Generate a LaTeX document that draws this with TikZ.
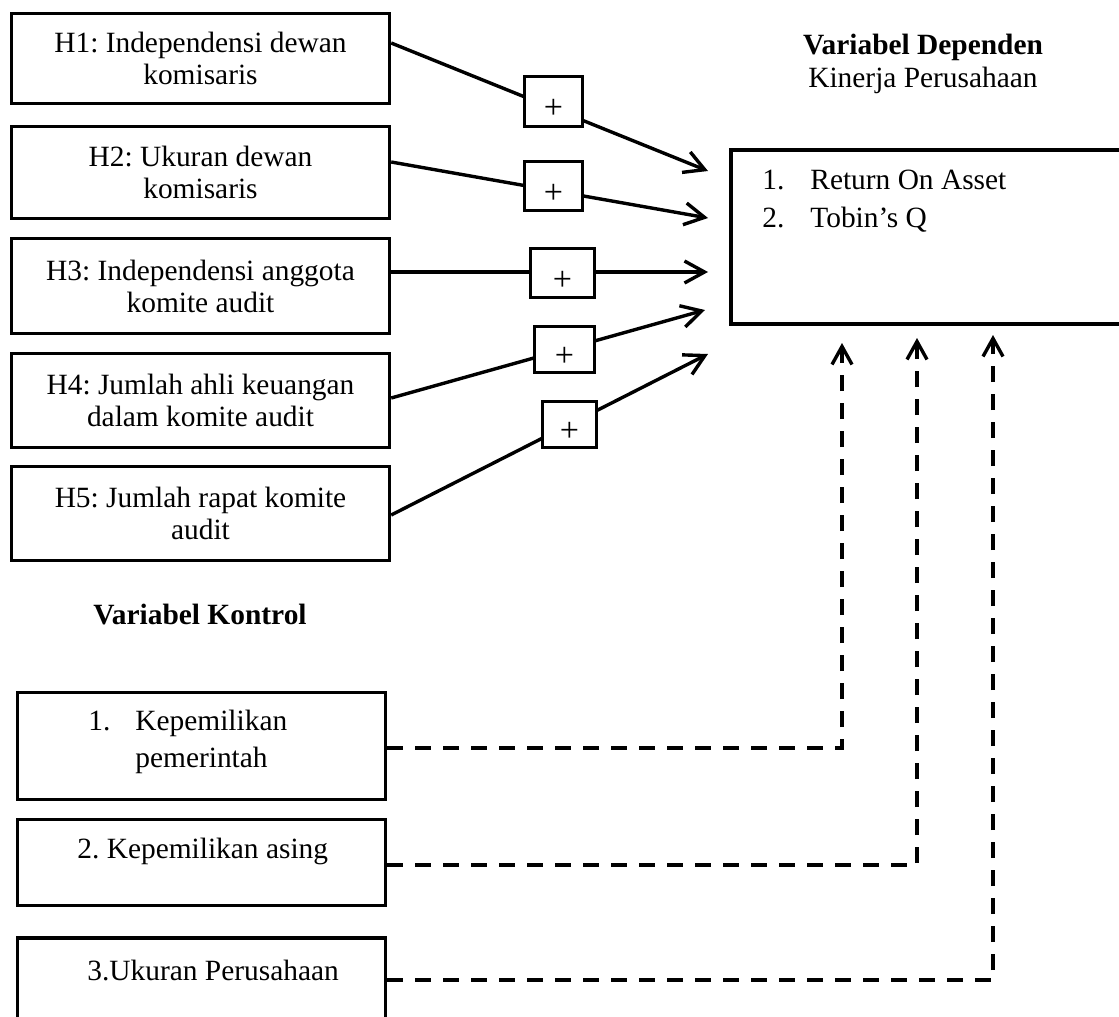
\documentclass[tikz,border=0pt]{standalone}
\usepackage{fontspec}
\setmainfont{Liberation Serif}
\usetikzlibrary{arrows.meta}
\frenchspacing
\begin{document}
\begin{tikzpicture}[x=0.5pt,y=-0.5pt,
  every node/.style={font=\fontsize{14.7pt}{16pt}\selectfont},
  hbox/.style={draw, line width=1.7pt, minimum width=189pt, align=center, inner sep=0pt},
  plusbox/.style={draw, fill=white, line width=1.7pt, inner sep=0pt, text height=17pt, text depth=0pt, font=\fontsize{17pt}{18pt}\selectfont},
  cbox/.style={draw, line width=1.7pt, minimum width=183.8pt, inner sep=0pt},
  link/.style={line width=1.7pt, -{Straight Barb[length=10pt,width=11pt]}},
  ctrl/.style={line width=1.7pt, dash pattern=on 8pt off 6pt, -{Straight Barb[length=9pt,width=10pt]}},
]
\useasboundingbox (0,0) rectangle (1119,1017);

% independent variable boxes
\node[hbox, minimum height=45pt]   (h1) at (200.5,58.5)  {\raisebox{-2pt}{\parbox{189pt}{\centering H1: Independensi dewan\\komisaris}}};
\node[hbox, minimum height=46pt]   (h2) at (200.5,172.5) {H2: Ukuran dewan\\komisaris};
\node[hbox, minimum height=47.5pt] (h3) at (200.5,286)   {H3: Independensi anggota\\komite audit};
\node[hbox, minimum height=47pt]   (h4) at (200.5,400.5) {H4: Jumlah ahli keuangan\\dalam komite audit};
\node[hbox, minimum height=47pt]   (h5) at (200.5,513.5) {H5: Jumlah rapat komite\\audit};

% dependent variable
\node[align=center, font=\fontsize{14.7pt}{16.5pt}\selectfont] (dephead) at (923,64) {\textbf{Variabel Dependen}\\Kinerja Perusahaan};
\node[draw, line width=1.7pt, minimum width=202pt, minimum height=87pt, inner sep=0pt] (dep) at (933,237) {};
\node[anchor=north west, inner sep=0pt, align=left, font=\fontsize{14.7pt}{19pt}\selectfont] (deplist) at (762,170)
  {\makebox[24pt][l]{1.}Return On Asset\\\makebox[24pt][l]{2.}Tobin’s Q};

% arrow tips
\coordinate (t1) at (708,171);
\coordinate (t2) at (708,218);
\coordinate (t3) at (708,272);
\coordinate (t4) at (705,310);
\coordinate (t5) at (708,354);

\draw[link] (h1.east |- 0,43)  -- (t1);
\draw[link] (h2.east |- 0,162) -- (t2);
\draw[link] (h3.east |- 0,272) -- (t3);
\draw[link] (h4.east |- 0,398) -- (t4);
\draw[link] (h5.east |- 0,515) -- (t5);

% plus boxes
\node[plusbox, minimum width=28.8pt, minimum height=24.8pt] (p1) at (553.5,101.5) {+};
\node[plusbox, minimum width=28.8pt, minimum height=24.3pt] (p2) at (553.5,186)   {+};
\node[plusbox, minimum width=31.8pt, minimum height=24.3pt] (p3) at (562.5,273)   {+};
\node[plusbox, minimum width=29.8pt, minimum height=22.8pt] (p4) at (564.5,349.5) {+};
\node[plusbox, minimum width=26.8pt, minimum height=22.8pt] (p5) at (569.5,424.5) {+};

% control variables
\node[font=\fontsize{14.7pt}{16pt}\selectfont\bfseries] (ctrlhead) at (200,615) {Variabel Kontrol};
\node[cbox, minimum height=53.3pt] (c1) at (201.5,746)   {};
\node[cbox, minimum height=42.8pt] (c2) at (201.5,862.5) {};
\node[cbox, minimum height=51pt]   (c3) at (201.5,988.8) {};

\node[anchor=north west, inner sep=0pt, align=left, font=\fontsize{14.7pt}{18.5pt}\selectfont] (c1t) at (88,710)
  {\makebox[23.5pt][l]{1.}Kepemilikan\\\hspace*{23.5pt}pemerintah};
\node[anchor=base west, inner sep=0pt] (c2t) at (77,858) {2. Kepemilikan asing};
\node[anchor=base west, inner sep=0pt] (c3t) at (87,980) {3.Ukuran Perusahaan};

\coordinate (d1) at (842,343);
\coordinate (d2) at (917,338);
\coordinate (d3) at (993,335);

\draw[ctrl] (c1.east |- 0,748) -| (d1);
\draw[ctrl] (c2.east |- 0,865) -| (d2);
\draw[ctrl] (c3.east |- 0,980) -| (d3);
\end{tikzpicture}
\end{document}
